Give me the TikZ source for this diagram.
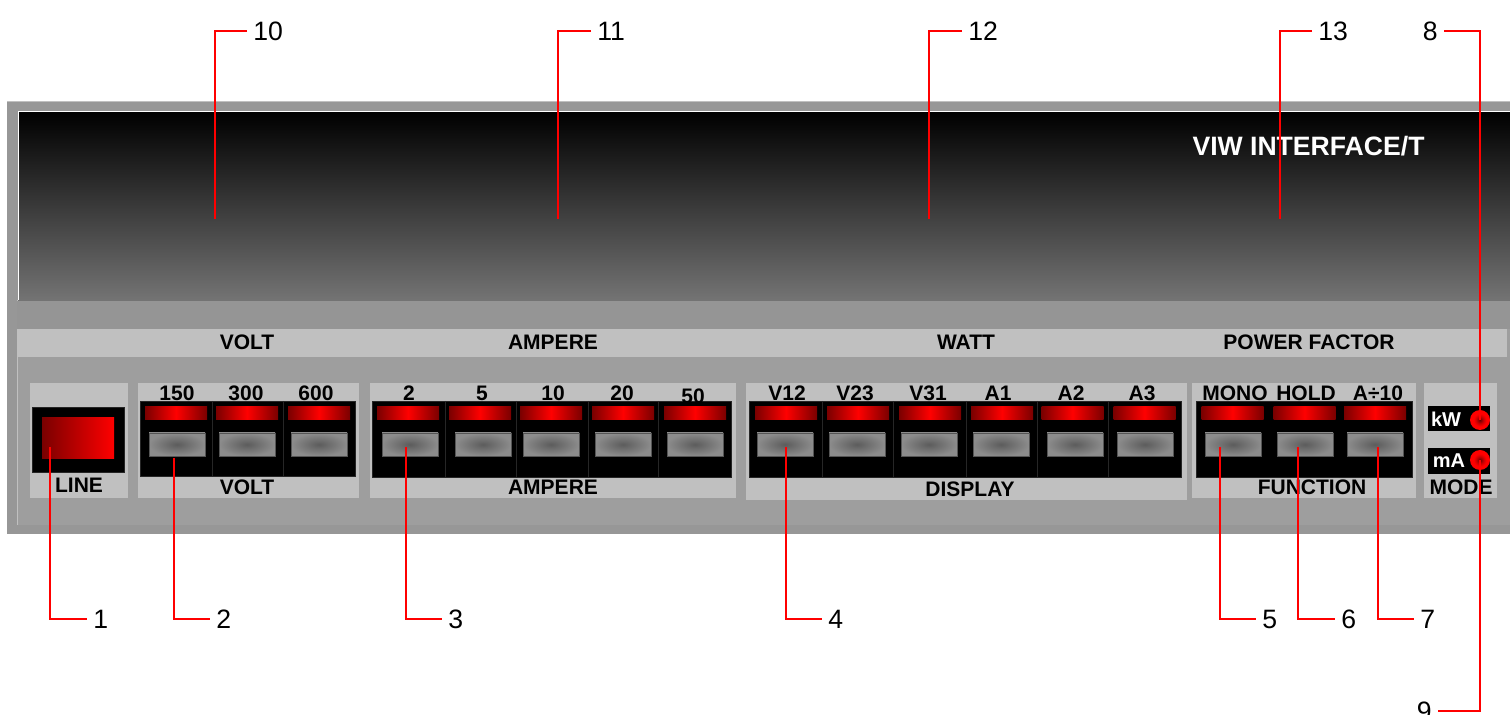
\documentclass[tikz,border=0pt]{standalone}
\usepackage{fontspec}
\setmainfont{Liberation Sans}
\definecolor{outergray}{HTML}{979797}
\definecolor{panelgray}{HTML}{9E9E9E}
\definecolor{bandgray}{HTML}{959595}
\definecolor{lightband}{HTML}{C0C0C0}
\definecolor{dispbot}{HTML}{747474}
\definecolor{leddark}{HTML}{7A0000}
\definecolor{btnin}{HTML}{5C5C5C}
\definecolor{btnout}{HTML}{8C8C8C}
\definecolor{btnedge}{HTML}{555555}
\definecolor{sepgray}{HTML}{262626}
\pgfdeclareradialshading{lampshade}{\pgfpoint{0bp}{0bp}}{color(0bp)=(red!40!black); color(9bp)=(red!80!black); color(16bp)=(red); color(50bp)=(red)}
\tikzset{
  lab/.style={font=\bfseries\fontsize{10.5}{12}\selectfont, inner sep=0pt, text=black},
  num/.style={font=\fontsize{13.3}{15}\selectfont, inner ysep=0pt, inner xsep=3pt, text=black},
  callout/.style={draw=red, line width=1pt},
  groupbox/.style={fill=lightband, draw=none},
  blackbox/.style={fill=black, draw=sepgray, line width=0.3pt},
  ledlamp/.style={rectangle, inner sep=0pt, minimum width=31pt, minimum height=6.5pt, left color=leddark, right color=leddark, middle color=red, draw=none},
  btnkey/.style={rectangle, inner sep=0pt, minimum width=28pt, minimum height=11.5pt, inner color=btnin, outer color=btnout, draw=btnedge, line width=0.4pt},
  modelamp/.style={circle, inner sep=0pt, minimum size=10pt, shading=lampshade, draw=none},
  seprule/.style={draw=sepgray, line width=0.4pt},
}
\begin{document}
\begin{tikzpicture}[x=0.5pt,y=-0.5pt]
\useasboundingbox (0,0) rectangle (1510,715);
% outer frame
\fill[outergray] (7,101) rectangle (1510,534);
\draw[color=lightband, line width=0.6pt] (7,101.5) -- (1510,101.5);
\fill[panelgray] (17,300) rectangle (1510,525);
% display
\shade[top color=black, bottom color=dispbot] (18,112) rectangle (1510,301);
\draw[white, line width=0.5pt] (18,300) -- (18,112) -- (1510,112);
\draw[color=lightband, line width=0.5pt] (17,300) -- (17,525);
% bands
\fill[bandgray] (17,301) rectangle (1510,329);
\fill[lightband] (17,329) rectangle (1507,357);
\node[lab] (tVolt) at (247,342) {VOLT};
\node[lab] (tAmp) at (553,342) {AMPERE};
\node[lab] (tWatt) at (966,342) {WATT};
\node[lab] (tPF) at (1309,342) {POWER FACTOR};
\node[font=\bfseries\fontsize{13.3}{15}\selectfont, text=white, inner sep=0pt] (title) at (1308.5,146) {VIW INTERFACE/T};

% group boxes
\fill[groupbox] (30,383) rectangle (128,498);
\fill[groupbox] (138,383) rectangle (359,498);
\fill[groupbox] (370,383) rectangle (736,498);
\fill[groupbox] (746,383) rectangle (1187,500);
\fill[groupbox] (1192,383) rectangle (1416,498);
\fill[groupbox] (1424,383) rectangle (1497,498);

% LINE switch
\filldraw[blackbox] (32,407) rectangle (124,472);
\shade[left color=leddark, right color=red] (42,418) rectangle (114,459);
\node[lab] (lLine) at (79,485) {LINE};

% black areas
\filldraw[blackbox] (140,401) rectangle (355,476);
\filldraw[blackbox] (372,401) rectangle (731,477);
\filldraw[blackbox] (749,401) rectangle (1181,477);
\filldraw[blackbox] (1196,401) rectangle (1412,477);
\foreach \x in {212,283} \draw[seprule] (\x,401) -- (\x,476);
\foreach \x in {445,516,588,658} \draw[seprule] (\x,401) -- (\x,477);
\foreach \x in {822,893,966,1037,1108} \draw[seprule] (\x,401) -- (\x,477);

% VOLT
\foreach \x/\t [count=\i] in {177/150,246/300,316/600} \node[lab] (vl\i) at (\x,393) {\t};
\foreach \x [count=\i] in {176,247,319} \node[ledlamp] (vled\i) at (\x,413.5) {};
\foreach \x [count=\i] in {177,247,319} \node[btnkey] (vbtn\i) at (\x,444.5) {};
\node[lab] (lVolt) at (247,487) {VOLT};

% AMPERE
\foreach \x/\y/\t [count=\i] in {409/393/2,482/393/5,553/393/10,622/393/20,693/396/50} \node[lab] (al\i) at (\x,\y) {\t};
\foreach \x [count=\i] in {408,480,551,623,695} \node[ledlamp] (aled\i) at (\x,413.5) {};
\foreach \x [count=\i] in {410,483,551,623,695} \node[btnkey] (abtn\i) at (\x,444.5) {};
\node[lab] (lAmp) at (553,487) {AMPERE};

% DISPLAY
\foreach \x/\t [count=\i] in {787/V12,855/V23,928/V31,998/A1,1071/A2,1142/A3} \node[lab] (dl\i) at (\x,393) {\t};
\foreach \x [count=\i] in {786,858,930,1002,1072.5,1144.5} \node[ledlamp] (dled\i) at (\x,413.5) {};
\foreach \x [count=\i] in {785,857,929,1001,1075,1145} \node[btnkey] (dbtn\i) at (\x,444.5) {};
\node[lab] (lDisp) at (970,489) {DISPLAY};

% FUNCTION
\node[lab] (fl1) at (1235,393) {MONO};
\node[lab] (fl2) at (1306,393) {HOLD};
\node[lab] (fl3) at (1378,393) {A÷10};
\foreach \x [count=\i] in {1232.5,1304.5,1375} \node[ledlamp] (fled\i) at (\x,413.5) {};
\foreach \x [count=\i] in {1233,1305,1375} \node[btnkey] (fbtn\i) at (\x,444.5) {};
\node[lab] (lFunc) at (1312,487) {FUNCTION};

% MODE
\fill[black] (1428,406) rectangle (1490,431);
\fill[black] (1428,448) rectangle (1490,474);
\node[font=\bfseries\fontsize{10}{12}\selectfont, text=white, inner sep=0pt] (kw) at (1446,419) {kW};
\node[font=\bfseries\fontsize{10}{12}\selectfont, text=white, inner sep=0pt] (ma) at (1449,461) {mA};
\node[modelamp] (kwlamp) at (1480,420) {};
\node[modelamp] (malamp) at (1480,460) {};
\node[lab] (lMode) at (1461,487) {MODE};

% callout anchors
\coordinate (p10) at (215,219);
\coordinate (p11) at (558,219);
\coordinate (p12) at (929,219);
\coordinate (p13) at (1280,219);
\coordinate (c1) at (50,447);
\coordinate (c2) at (174,458);
\coordinate (c3) at (406,447);
\coordinate (c4) at (786,447);
\coordinate (c5) at (1220,447);
\coordinate (c6) at (1298,447);
\coordinate (c7) at (1378,447);

% callout numbers
\node[num, anchor=west] (n10) at (247,31) {10};
\node[num, anchor=west] (n11) at (591,31) {11};
\node[num, anchor=west] (n12) at (962,31) {12};
\node[num, anchor=west] (n13) at (1312,31) {13};
\node[num, anchor=east] (n8) at (1444,31) {8};
\node[num, anchor=east] (n9) at (1438,711) {9};
\node[num, anchor=west] (n1) at (87,619) {1};
\node[num, anchor=west] (n2) at (210,619) {2};
\node[num, anchor=west] (n3) at (442,619) {3};
\node[num, anchor=west] (n4) at (822,619) {4};
\node[num, anchor=west] (n5) at (1256,619) {5};
\node[num, anchor=west] (n6) at (1335,619) {6};
\node[num, anchor=west] (n7) at (1414,619) {7};

% callout lines
\draw[callout] (n10.west) -| (p10);
\draw[callout] (n11.west) -| (p11);
\draw[callout] (n12.west) -| (p12);
\draw[callout] (n13.west) -| (p13);
\draw[callout] (n8.east) -| (kwlamp.center);
\draw[callout] (malamp.center) |- (n9.east);
\foreach \i in {1,...,7} \draw[callout] (c\i) |- (n\i.west);
\end{tikzpicture}
\end{document}
